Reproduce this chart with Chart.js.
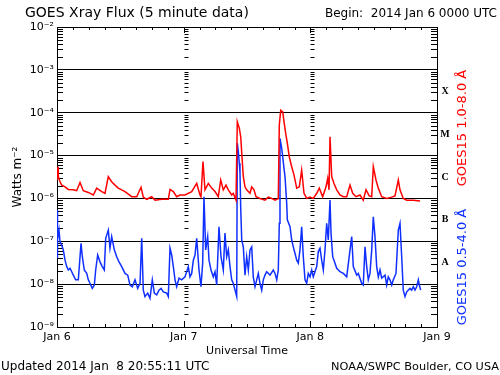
<!DOCTYPE html>
<html>
<head>
<meta charset="utf-8">
<script src="https://cdn.jsdelivr.net/npm/chart.js@4"></script>
<style>
  html, body { margin: 0; padding: 0; background: #fff; }
  #wrap { width: 500px; height: 375px; }
</style>
</head>
<body>
<div id="wrap"><canvas id="xray" width="500" height="375"></canvas></div>
<script>
// GOES-15 X선 플럭스, 2014 Jan 6 00:00 UTC 부터 시간(h) 단위. 값은 log10(W/m^2).

const dayHours = [0, 24, 48, 72];
const dayLabels = ['Jan 6', 'Jan 7', 'Jan 8', 'Jan 9'];
const decades = [-9, -8, -7, -6, -5, -4, -3, -2];
const decadeLabels = ['10⁻⁹', '10⁻⁸', '10⁻⁷', '10⁻⁶', '10⁻⁵', '10⁻⁴', '10⁻³', '10⁻²'];
const flareClasses = ['A', 'B', 'C', 'M', 'X'];
const flareClassLog = [-7.5, -6.5, -5.5, -4.5, -3.5];

// 1.0-8.0 Å (red)
const longHours = [0.00, 0.19, 0.25, 0.57, 0.89, 1.52, 2.14, 3.09, 3.73, 4.36, 4.98, 5.93, 6.88, 7.52, 8.47, 9.09,
  9.72, 10.36, 10.99, 11.61, 12.26, 12.88, 13.51, 14.15, 15.10, 15.92, 16.35, 17.00, 17.94, 18.57, 19.84, 21.09,
  21.41, 22.04, 22.68, 23.31, 24.25, 25.52, 26.47, 27.09, 27.28, 27.66, 28.04, 28.67, 29.31, 29.94, 30.56, 31.02,
  31.51, 32.02, 32.46, 33.10, 33.40, 33.92, 34.16, 34.54, 34.81, 35.05, 35.30, 35.62, 35.94, 36.57, 36.89, 37.33,
  37.71, 38.46, 39.41, 40.04, 40.68, 41.31, 41.93, 42.12, 42.39, 42.77, 43.01, 43.33, 43.64, 44.01, 44.47, 44.90,
  45.42, 45.91, 46.36, 46.80, 47.31, 47.94, 48.56, 49.21, 49.70, 50.34, 50.97, 51.29, 51.54, 51.73, 52.05, 52.48,
  53.00, 53.62, 54.25, 54.89, 55.52, 56.03, 56.65, 57.41, 58.03, 58.55, 59.17, 59.63, 59.93, 60.44, 60.88, 61.52,
  62.47, 63.42, 64.04, 64.67, 64.99, 65.61, 66.26, 67.51, 68.78];
const longLog = [-5.57, -5.26, -5.49, -5.61, -5.69, -5.73, -5.79, -5.80, -5.82, -5.63, -5.82, -5.86, -5.92, -5.76, -5.84, -5.88,
  -5.49, -5.61, -5.69, -5.76, -5.80, -5.84, -5.90, -5.96, -5.96, -5.74, -5.97, -6.02, -5.96, -6.04, -6.02, -6.02,
  -5.79, -5.84, -5.96, -5.92, -5.92, -5.84, -5.65, -5.92, -5.96, -5.14, -5.80, -5.65, -5.76, -5.84, -5.96, -5.57,
  -5.80, -5.69, -5.80, -5.92, -5.88, -6.04, -4.21, -4.36, -4.56, -5.03, -5.49, -5.73, -5.80, -5.88, -5.73, -5.80,
  -5.96, -6.00, -6.04, -5.97, -6.00, -6.04, -6.00, -4.29, -3.94, -3.98, -4.21, -4.48, -4.71, -5.03, -5.26, -5.45,
  -5.76, -5.73, -5.34, -5.88, -6.00, -5.97, -6.00, -5.88, -5.76, -5.96, -5.73, -5.53, -5.80, -4.56, -5.49, -5.65,
  -5.80, -5.92, -5.96, -5.96, -5.69, -5.88, -5.96, -5.92, -6.04, -5.80, -5.94, -5.96, -5.26, -5.57, -5.76, -5.96,
  -6.00, -5.97, -5.94, -5.57, -5.80, -6.00, -6.04, -6.04, -6.06];

// 0.5-4.0 Å (blue)
const shortHours = [0.00, 0.06, 0.13, 0.38, 0.57, 0.89, 1.19, 1.52, 1.84, 2.14, 2.46, 2.79, 3.09, 3.54, 4.04, 4.55,
  4.80, 5.17, 5.63, 5.93, 6.25, 6.69, 7.07, 7.33, 7.71, 8.15, 8.58, 8.96, 9.23, 9.72, 10.04, 10.36,
  10.86, 11.31, 11.75, 12.26, 12.88, 13.40, 13.83, 14.27, 14.78, 15.29, 15.73, 16.05, 16.35, 16.67, 17.19, 17.62,
  18.06, 18.44, 18.89, 19.33, 19.71, 20.14, 20.79, 21.09, 21.41, 21.73, 22.04, 22.36, 22.68, 23.12, 23.63, 24.25,
  24.88, 25.20, 25.52, 25.83, 26.15, 26.47, 26.91, 27.28, 27.60, 27.85, 28.17, 28.55, 28.80, 29.18, 29.61, 29.94,
  30.26, 30.69, 31.07, 31.51, 31.83, 32.15, 32.46, 32.78, 33.10, 33.40, 33.73, 34.05, 34.16, 34.35, 34.54, 34.67,
  34.81, 35.00, 35.30, 35.62, 35.94, 36.25, 36.57, 36.89, 37.19, 37.52, 37.84, 38.14, 38.46, 38.79, 39.09, 39.41,
  39.73, 40.36, 40.98, 41.31, 41.63, 41.93, 42.12, 42.25, 42.54, 42.77, 43.01, 43.20, 43.52, 43.64, 44.15, 44.47,
  44.77, 45.09, 45.42, 45.72, 46.04, 46.36, 46.67, 46.99, 47.31, 47.61, 47.94, 48.26, 48.56, 49.21, 49.51, 49.83,
  50.15, 50.46, 50.78, 51.10, 51.40, 51.73, 51.92, 52.24, 52.67, 53.00, 53.62, 54.25, 54.89, 55.52, 55.84, 56.14,
  56.79, 57.09, 57.73, 58.03, 58.36, 58.68, 58.98, 59.30, 59.63, 59.93, 60.25, 60.57, 60.88, 61.20, 61.52, 62.15,
  62.47, 62.77, 63.09, 63.42, 63.72, 64.23, 64.67, 64.99, 65.31, 65.61, 65.94, 66.26, 66.88, 67.20, 67.51, 67.83,
  68.15, 68.46, 68.65, 68.91];
const shortLog = [-7.37, -6.27, -6.97, -6.74, -7.01, -7.09, -7.20, -7.44, -7.59, -7.67, -7.63, -7.71, -7.79, -7.90, -7.90, -7.05,
  -7.36, -7.67, -7.75, -7.90, -7.98, -8.10, -8.02, -7.67, -7.32, -7.48, -7.59, -7.67, -6.93, -6.74, -7.16, -6.89,
  -7.20, -7.36, -7.48, -7.59, -7.75, -7.79, -8.02, -8.06, -7.90, -8.10, -7.98, -6.93, -8.14, -8.29, -8.21, -8.33,
  -7.90, -8.21, -8.25, -8.14, -8.10, -8.18, -8.21, -8.29, -7.16, -7.32, -7.59, -7.90, -8.06, -7.86, -7.90, -7.83,
  -7.59, -7.83, -7.75, -7.44, -7.32, -6.93, -7.67, -8.06, -7.51, -5.96, -7.20, -6.89, -7.44, -7.67, -7.83, -7.71,
  -8.02, -6.66, -7.36, -7.67, -6.81, -7.36, -7.20, -7.59, -7.90, -7.98, -8.14, -8.29, -4.71, -4.90, -5.18, -5.40,
  -6.23, -6.97, -7.13, -7.79, -7.36, -7.67, -7.20, -7.13, -7.83, -8.06, -7.90, -7.75, -7.98, -8.14, -7.90, -7.79,
  -7.71, -7.79, -7.67, -7.75, -7.90, -7.67, -6.58, -4.60, -4.80, -5.03, -5.30, -5.49, -6.11, -6.50, -6.66, -6.97,
  -7.13, -7.28, -7.44, -7.51, -7.20, -6.66, -7.36, -7.90, -7.98, -7.75, -7.83, -7.67, -7.83, -7.59, -7.24, -7.16,
  -7.44, -7.67, -7.20, -6.58, -6.97, -6.04, -6.81, -7.36, -7.51, -7.63, -7.71, -7.75, -7.83, -7.20, -6.89, -7.59,
  -7.79, -7.75, -7.98, -8.02, -7.13, -7.59, -7.90, -7.75, -7.20, -6.43, -6.89, -7.59, -7.83, -7.67, -7.86, -7.79,
  -8.02, -7.83, -7.90, -8.02, -7.90, -7.75, -6.74, -6.58, -7.36, -8.14, -8.29, -8.18, -8.10, -8.14, -8.06, -8.14,
  -8.06, -7.90, -8.02, -8.14];

const RED = '#ff0000';
const BLUE = '#1030ff';
const FONT = 'DejaVu Sans, sans-serif';

function toPoints(hours, logs) {
  return hours.map((h, i) => ({ x: h, y: Math.pow(10, logs[i]) }));
}

// 프레임 + 안쪽으로 향한 눈금 (좌/우 축, 날짜 경계, 위/아래 3시간 간격)
const frameTicks = {
  id: 'frameTicks',
  beforeDatasetsDraw(chart) {
    const { ctx, chartArea: a, scales: { x, y } } = chart;
    const inner = dayHours.slice(1, -1).map(d => Math.round(x.getPixelForValue(d)) + 0.5);
    ctx.save();
    ctx.strokeStyle = '#000';
    ctx.lineWidth = 1;
    ctx.beginPath();
    for (let e = -9; e < -2; e++) {
      for (let m = 2; m <= 9; m++) {
        const py = Math.round(y.getPixelForValue(m * Math.pow(10, e))) + 0.5;
        ctx.moveTo(a.left, py); ctx.lineTo(a.left + 6, py);
        ctx.moveTo(a.right, py); ctx.lineTo(a.right - 6, py);
        inner.forEach(px => { ctx.moveTo(px, py); ctx.lineTo(px + 4, py); });
      }
    }
    for (let h = 3; h < 72; h += 3) {
      const px = Math.round(x.getPixelForValue(h)) + 0.5;
      const len = h % 24 === 0 ? 6 : 3;
      ctx.moveTo(px, a.top); ctx.lineTo(px, a.top + len);
      ctx.moveTo(px, a.bottom); ctx.lineTo(px, a.bottom - len);
    }
    ctx.stroke();
    ctx.strokeRect(Math.round(a.left) + 0.5, Math.round(a.top) + 0.5,
      Math.round(a.right - a.left), Math.round(a.bottom - a.top));
    ctx.restore();
  },
};

// 제목, 하단 문구, 오른쪽 등급 문자와 채널 라벨
const annotations = {
  id: 'annotations',
  afterDraw(chart) {
    const { ctx, chartArea: a, scales: { y } } = chart;
    ctx.save();
    ctx.fillStyle = '#000';
    ctx.textBaseline = 'alphabetic';
    ctx.font = `14px ${FONT}`;
    ctx.textAlign = 'left';
    ctx.fillText('GOES Xray Flux (5 minute data)', 25, 17);
    ctx.font = `12px ${FONT}`;
    ctx.textAlign = 'right';
    ctx.fillText('Begin:  2014 Jan 6 0000 UTC', 497, 17);
    ctx.textAlign = 'left';
    ctx.fillText('Updated 2014 Jan  8 20:55:11 UTC', 1, 370);
    ctx.font = `11.3px ${FONT}`;
    ctx.textAlign = 'right';
    ctx.fillText('NOAA/SWPC Boulder, CO USA', 499, 370);

    ctx.font = `bold 10px Liberation Serif, serif`;
    ctx.textAlign = 'center';
    ctx.textBaseline = 'middle';
    flareClasses.forEach((c, i) => {
      ctx.fillText(c, a.right + 8, y.getPixelForValue(Math.pow(10, flareClassLog[i])));
    });

    ctx.font = `13px ${FONT}`;
    const label = (text, color, cy) => {
      ctx.save();
      ctx.translate(a.right + 26, cy);
      ctx.rotate(-Math.PI / 2);
      ctx.fillStyle = color;
      ctx.fillText(text, 0, 0);
      ctx.restore();
    };
    label('GOES15 1.0-8.0 Å', RED, 128);
    label('GOES15 0.5-4.0 Å', BLUE, 267);
    ctx.restore();
  },
};

Chart.defaults.font.family = FONT;
Chart.defaults.font.size = 11;
Chart.defaults.color = '#000';

new Chart(document.getElementById('xray'), {
  type: 'line',
  data: {
    datasets: [
      { label: 'GOES15 1.0-8.0 Å', data: toPoints(longHours, longLog), borderColor: RED, borderWidth: 1.5,
        pointRadius: 0, tension: 0, fill: false },
      { label: 'GOES15 0.5-4.0 Å', data: toPoints(shortHours, shortLog), borderColor: BLUE, borderWidth: 1.5,
        pointRadius: 0, tension: 0, fill: false },
    ],
  },
  options: {
    responsive: false,
    animation: false,
    events: [],
    layout: { padding: { left: 0, top: 27, right: 63, bottom: 0 } },
    plugins: { legend: { display: false }, tooltip: { enabled: false } },
    scales: {
      x: {
        type: 'linear',
        min: 0,
        max: 72,
        afterFit: s => { s.height = 48; },
        afterBuildTicks: s => { s.ticks = dayHours.map(v => ({ value: v })); },
        ticks: { padding: 4, maxRotation: 0, callback: (v, i) => dayLabels[i] },
        grid: { display: false, drawTicks: false },
        border: { display: false },
        title: { display: true, text: 'Universal Time', font: { size: 11 }, padding: { top: 0, bottom: 17 } },
      },
      y: {
        type: 'logarithmic',
        min: 1e-9,
        max: 1e-2,
        afterFit: s => { s.width = 57; },
        afterBuildTicks: s => { s.ticks = decades.map(e => ({ value: Math.pow(10, e) })); },
        ticks: { padding: 3, autoSkip: false, callback: (v, i) => decadeLabels[i] },
        grid: {
          drawTicks: false,
          color: ctx => (ctx.index === 0 || ctx.index === decades.length - 1) ? 'rgba(0,0,0,0)' : '#000',
          lineWidth: 1,
        },
        border: { display: false },
        title: { display: true, text: 'Watts m⁻²', font: { size: 12 }, padding: { top: 11, bottom: 4 } },
      },
    },
  },
  plugins: [frameTicks, annotations],
});
</script>
</body>
</html>
